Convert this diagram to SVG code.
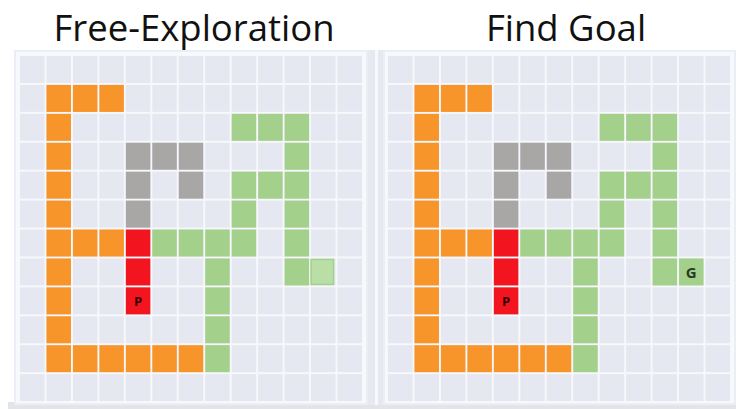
<svg xmlns="http://www.w3.org/2000/svg" width="736" height="409" viewBox="0 0 736 409">
<style>
.t{font-family:"Open Sans","Noto Sans",sans-serif;font-size:36.5px;fill:#111}
.o{fill:#f7952a}.g{fill:#a9a6a6}.r{fill:#f2151f}.v{fill:#a3d08b}
.lv{fill:#b9dfa6;stroke:#a3d08b;stroke-width:1.5}
.lbl{font-family:"Open Sans","Noto Sans",sans-serif;font-weight:bold;text-anchor:middle}
</style>
<defs>
<pattern id="cells" width="26.46" height="28.92" patternUnits="userSpaceOnUse">
<rect x="1" y="1" width="24.5" height="27" fill="#e6e8f1"/>
</pattern>
<g id="maze">
<rect x="0" y="0" width="344" height="347" fill="#f7f8fb"/>
<rect x="0" y="0" width="344" height="347" fill="url(#cells)"/>
<g class="o">
<rect x="27.46" y="29.92" width="24.5" height="27"/><rect x="53.92" y="29.92" width="24.5" height="27"/><rect x="80.38" y="29.92" width="24.5" height="27"/>
<rect x="27.46" y="58.84" width="24.5" height="27"/><rect x="27.46" y="87.76" width="24.5" height="27"/><rect x="27.46" y="116.68" width="24.5" height="27"/><rect x="27.46" y="145.6" width="24.5" height="27"/><rect x="27.46" y="174.52" width="24.5" height="27"/><rect x="27.46" y="203.44" width="24.5" height="27"/><rect x="27.46" y="232.36" width="24.5" height="27"/><rect x="27.46" y="261.28" width="24.5" height="27"/><rect x="27.46" y="290.2" width="24.5" height="27"/>
<rect x="53.92" y="174.52" width="24.5" height="27"/><rect x="80.38" y="174.52" width="24.5" height="27"/>
<rect x="53.92" y="290.2" width="24.5" height="27"/><rect x="80.38" y="290.2" width="24.5" height="27"/><rect x="106.84" y="290.2" width="24.5" height="27"/><rect x="133.3" y="290.2" width="24.5" height="27"/><rect x="159.76" y="290.2" width="24.5" height="27"/>
</g>
<g class="g">
<rect x="106.84" y="87.76" width="24.5" height="27"/><rect x="133.3" y="87.76" width="24.5" height="27"/><rect x="159.76" y="87.76" width="24.5" height="27"/>
<rect x="106.84" y="116.68" width="24.5" height="27"/><rect x="159.76" y="116.68" width="24.5" height="27"/>
<rect x="106.84" y="145.6" width="24.5" height="27"/>
</g>
<g class="r">
<rect x="106.84" y="174.52" width="24.5" height="27"/><rect x="106.84" y="203.44" width="24.5" height="27"/><rect x="106.84" y="232.36" width="24.5" height="27"/>
</g>
<g class="v">
<rect x="212.68" y="58.84" width="24.5" height="27"/><rect x="239.14" y="58.84" width="24.5" height="27"/><rect x="265.6" y="58.84" width="24.5" height="27"/>
<rect x="265.6" y="87.76" width="24.5" height="27"/>
<rect x="212.68" y="116.68" width="24.5" height="27"/><rect x="239.14" y="116.68" width="24.5" height="27"/><rect x="265.6" y="116.68" width="24.5" height="27"/>
<rect x="212.68" y="145.6" width="24.5" height="27"/><rect x="265.6" y="145.6" width="24.5" height="27"/>
<rect x="133.3" y="174.52" width="24.5" height="27"/><rect x="159.76" y="174.52" width="24.5" height="27"/><rect x="186.22" y="174.52" width="24.5" height="27"/><rect x="212.68" y="174.52" width="24.5" height="27"/><rect x="265.6" y="174.52" width="24.5" height="27"/>
<rect x="186.22" y="203.44" width="24.5" height="27"/><rect x="265.6" y="203.44" width="24.5" height="27"/>
<rect x="186.22" y="232.36" width="24.5" height="27"/><rect x="186.22" y="261.28" width="24.5" height="27"/><rect x="186.22" y="290.2" width="24.5" height="27"/>
</g>
<text class="lbl" x="119.1" y="251" font-size="13" fill="#3a0000">P</text>
</g>
</defs>
<rect width="736" height="409" fill="#fff"/>
<text class="t" x="194" y="41" text-anchor="middle">Free-Exploration</text>
<text class="t" x="566" y="41" text-anchor="middle">Find Goal</text>
<rect x="8" y="402" width="728" height="7" fill="#e3e4e8"/>
<rect x="14" y="50" width="354" height="355" fill="#eceef5"/>
<rect x="16" y="52" width="350" height="351" fill="#f8f9fc"/>
<rect x="368" y="50" width="17" height="355" fill="#e7e9f0"/>
<rect x="375" y="50" width="3" height="355" fill="#f8f9fc"/>
<rect x="383" y="50" width="353" height="355" fill="#eceef5"/>
<rect x="385" y="52" width="349" height="351" fill="#f8f9fc"/>
<g id="panel-free">
<use href="#maze" x="19" y="55"/>
<rect id="goal-free" class="lv" x="311.06" y="259.44" width="22.5" height="25"/>
</g>
<g id="panel-goal">
<use href="#maze" x="387" y="55"/>
<g id="goal">
<rect class="v" x="679.06" y="258.44" width="24.5" height="27"/>
<text class="lbl" x="691.3" y="277.5" font-size="15" fill="#2a3a22">G</text>
</g>
</g>
</svg>
